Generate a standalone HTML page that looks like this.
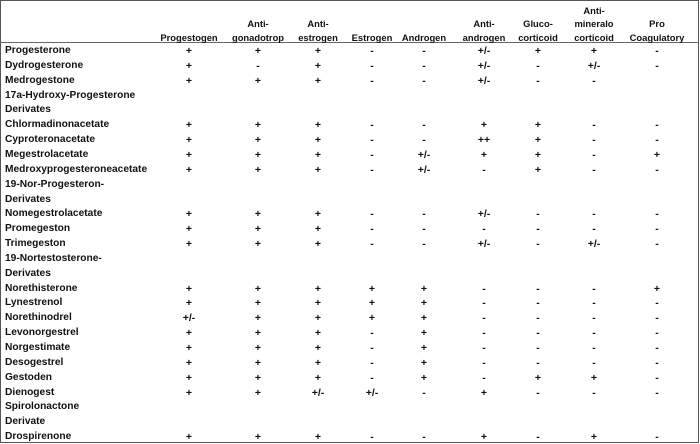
<!DOCTYPE html>
<html><head><meta charset="utf-8"><style>
html,body{margin:0;padding:0;background:#fff;}
#w{position:relative;width:700px;height:444px;overflow:hidden;font-family:"Liberation Sans",Arial,sans-serif;font-weight:bold;font-size:9.4px;color:#111;}
#b{position:absolute;left:0;top:0;width:697px;height:441px;border:1.5px solid #555;}
#h{position:absolute;left:1px;top:42px;width:698px;height:0;border-top:1.3px solid #666;}
.t{position:absolute;white-space:nowrap;line-height:12px;font-size:10.2px;}
.c{position:absolute;white-space:nowrap;line-height:12px;transform:translateX(-50%);text-align:center;}
.v{font-size:10.5px;}
</style></head><body><div id="w"><div id="b"></div><div id="h"></div>
<script>
var W=document.getElementById('w');
var cx=[189,258,318,372,424,484,538,594,657];
var hd=[[,,'Progestogen'],[,'Anti-','gonadotrop'],[,'Anti-','estrogen'],[,,'Estrogen'],[,,'Androgen'],[,'Anti-','androgen'],[,'Gluco-','corticoid'],['Anti-','mineralo','corticoid'],[,'Pro','Coagulatory']];
var hy=[5,18,32];
hd.forEach(function(h,i){for(var k=0;k<3;k++)if(h[k]){var d=document.createElement('div');d.className='c';d.style.left=cx[i]+'px';d.style.top=hy[k]+'px';d.textContent=h[k];W.appendChild(d);}});
var rows=[
['Progesterone','+ + + - - +/- + + -'],
['Dydrogesterone','+ - + - - +/- - +/- -'],
['Medrogestone','+ + + - - +/- - -'],
['17a-Hydroxy-Progesterone',''],
['Derivates',''],
['Chlormadinonacetate','+ + + - - + + - -'],
['Cyproteronacetate','+ + + - - ++ + - -'],
['Megestrolacetate','+ + + - +/- + + - +'],
['Medroxyprogesteroneacetate','+ + + - +/- - + - -'],
['19-Nor-Progesteron-',''],
['Derivates',''],
['Nomegestrolacetate','+ + + - - +/- - - -'],
['Promegeston','+ + + - - - - - -'],
['Trimegeston','+ + + - - +/- - +/- -'],
['19-Nortestosterone-',''],
['Derivates',''],
['Norethisterone','+ + + + + - - - +'],
['Lynestrenol','+ + + + + - - - -'],
['Norethinodrel','+/- + + + + - - - -'],
['Levonorgestrel','+ + + - + - - - -'],
['Norgestimate','+ + + - + - - - -'],
['Desogestrel','+ + + - + - - - -'],
['Gestoden','+ + + - + - + + -'],
['Dienogest','+ + +/- +/- - + - - -'],
['Spirolonactone',''],
['Derivate',''],
['Drospirenone','+ + + - - + - + -']];
rows.forEach(function(r,i){var y=51+i*14.85-6;
var d=document.createElement('div');d.className='t';d.style.left='5px';d.style.top=y+'px';d.textContent=r[0];W.appendChild(d);
if(r[1])r[1].split(' ').forEach(function(v,j){var e=document.createElement('div');e.className='c v';e.style.left=cx[j]+'px';e.style.top=y+'px';e.textContent=v;W.appendChild(e);});});
</script></div></body></html>
